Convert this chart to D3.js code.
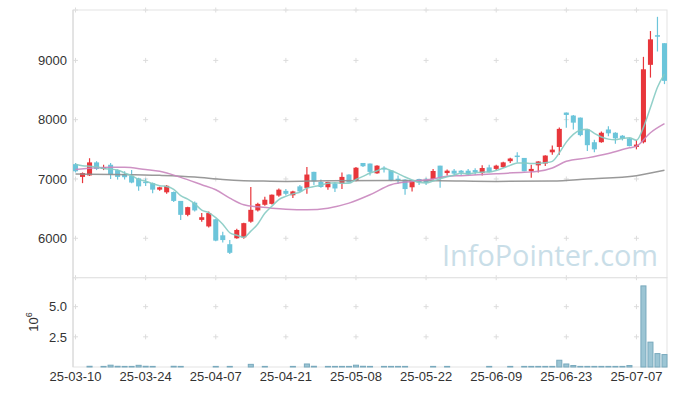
<!DOCTYPE html>
<html>
<head>
<meta charset="utf-8">
<script src="https://cdn.jsdelivr.net/npm/d3@7"></script>
<style>
  body { margin: 0; background: #fff; }
  text { font-family: "Liberation Sans", Arial, sans-serif; }
</style>
</head>
<body>
<div id="chart"></div>
<script>
// chart size
const FRAME_WIDTH = 677;
const FRAME_HEIGHT = 396;
const MARGINS = {left: 73, right: 10, top: 10, bottom: 29};
const PRICE_BOTTOM = 277.7;

// trading days (KRX), yy-mm-dd
const dates = [
  "25-03-10","25-03-11","25-03-12","25-03-13","25-03-14",
  "25-03-17","25-03-18","25-03-19","25-03-20","25-03-21",
  "25-03-24","25-03-25","25-03-26","25-03-27","25-03-28",
  "25-03-31","25-04-01","25-04-02","25-04-03","25-04-04",
  "25-04-07","25-04-08","25-04-09","25-04-10","25-04-11",
  "25-04-14","25-04-15","25-04-16","25-04-17","25-04-18",
  "25-04-21","25-04-22","25-04-23","25-04-24","25-04-25",
  "25-04-28","25-04-29","25-04-30","25-05-02","25-05-07",
  "25-05-08","25-05-09","25-05-12","25-05-13","25-05-14",
  "25-05-15","25-05-16","25-05-19","25-05-20","25-05-21",
  "25-05-22","25-05-23","25-05-26","25-05-27","25-05-28",
  "25-05-29","25-05-30","25-06-02","25-06-04","25-06-05",
  "25-06-09","25-06-10","25-06-11","25-06-12","25-06-13",
  "25-06-16","25-06-17","25-06-18","25-06-19","25-06-20",
  "25-06-23","25-06-24","25-06-25","25-06-26","25-06-27",
  "25-06-30","25-07-01","25-07-02","25-07-03","25-07-04",
  "25-07-07","25-07-08","25-07-09","25-07-10","25-07-11"
];

const opens = [
  7250,7035,7060,7280,7170, 7240,7150,7085,7055,7010,
  6955,6930,6820,6775,6780, 6630,6395,6600,6310,6200,
  6320,6050,5900,6000,6015, 6280,6470,6565,6580,6720,
  6800,6725,6875,6850,7120, 6950,6860,6925,6920,7075,
  6965,7270,7260,7095,7190, 7145,7005,6990,6860,7000,
  6990,7000,7225,7100,7140, 7140,7140,7150,7100,7195,
  7170,7200,7300,7395,7355, 7130,7230,7260,7450,7540,
  8120,8070,8035,7835,7620, 7620,7835,7780,7730,7685,
  7540,7620,8925,9425,9290
];
const highs = [
  7270,7110,7350,7300,7240, 7270,7160,7130,7150,7020,
  7010,6940,6870,6900,6790, 6630,6530,6620,6425,6450,
  6330,6110,5970,6160,6260, 6865,6600,6700,6740,6840,
  6830,6800,6900,7200,7120, 6990,6955,6940,7110,7080,
  7200,7270,7260,7230,7215, 7150,7060,6995,6980,7005,
  7020,7170,7225,7160,7170, 7150,7170,7180,7230,7240,
  7240,7290,7360,7450,7355, 7240,7300,7400,7565,7870,
  8120,8080,8035,7840,7660, 7800,7890,7790,7740,7690,
  7660,9060,9495,9735,9290
];
const lows = [
  7110,6930,7050,7150,7150, 7000,6990,6990,6930,6800,
  6880,6760,6800,6750,6610, 6310,6370,6450,6280,6180,
  5950,5930,5735,5990,5990, 6260,6450,6550,6570,6700,
  6720,6680,6780,6750,6900, 6850,6820,6780,6830,6940,
  6960,7200,7060,7090,7110, 6960,6920,6735,6790,6900,
  6900,6990,6850,7060,7060, 7060,7060,7070,7060,7110,
  7150,7190,7270,7280,7130, 7020,7110,7220,7410,7410,
  7865,7835,7720,7470,7450, 7610,7720,7595,7650,7550,
  7500,7600,8710,9150,8600
];
const closes = [
  7130,7100,7280,7170,7200, 7075,7035,7030,6940,6875,
  6935,6820,6860,6885,6630, 6395,6525,6470,6355,6425,
  5960,5970,5755,6140,6255, 6480,6580,6650,6735,6820,
  6750,6790,6790,7075,6960, 6865,6950,6840,7035,6940,
  7190,7215,7120,7225,7160, 6975,6975,6830,6975,6950,
  6935,7135,7020,7140,7090, 7105,7075,7115,7185,7115,
  7225,7280,7345,7375,7130, 7170,7295,7395,7495,7845,
  8080,7950,7740,7570,7500, 7780,7770,7685,7680,7555,
  7580,8850,9355,9400,8655
];
// volume in shares
const volumes = [
  8000,9000,60000,9000,50000, 150000,60000,50000,50000,140000,
  60000,50000,40000,9000,60000, 50000,5000,5000,5000,5000,
  50000,5000,50000,5000,5000, 220000,5000,50000,5000,5000,
  5000,50000,5000,250000,60000, 5000,50000,50000,50000,50000,
  150000,60000,50000,5000,50000, 50000,50000,50000,5000,5000,
  5000,50000,5000,50000,5000, 5000,5000,5000,5000,50000,
  5000,5000,50000,5000,50000, 50000,50000,50000,50000,560000,
  250000,120000,50000,50000,50000, 50000,50000,50000,50000,120000,
  5000,6720000,2060000,1110000,1030000
];

// MA5 first values (window reaches before first day)
const ma5Lead = [7250, 7225, 7215, 7205];
// MA20 and MA60 at [day index, value]
const ma20Points = [
  [0,7158],[5,7197],[7,7197],[10,7158],[12,7129],[15,7027],[18,6903],[20,6819],
  [22,6678],[24,6564],[26,6530],[28,6508],[30,6491],[33,6480],[36,6508],[39,6593],
  [42,6734],[45,6903],[48,6959],[51,7000],[53,7044],[55,7056],[60,7090],[64,7112],
  [66,7129],[68,7186],[70,7298],[73,7356],[76,7429],[79,7525],[80,7553],[82,7780],[84,7932]
];
const ma60Points = [
  [0,7085],[12,7061],[17,7034],[21,6990],[24,6971],[26,6966],[30,6959],[36,6971],
  [45,6975],[52,6971],[60,6959],[68,6966],[73,7000],[80,7056],[84,7146]
];

const priceTicks = [6000, 7000, 8000, 9000];
const volumeTicks = [2500000, 5000000];
const tickDates = ["25-03-10","25-03-24","25-04-07","25-04-21","25-05-08",
                   "25-05-22","25-06-09","25-06-23","25-07-07"];

const UP_COLOR = "#e8363b";
const DOWN_COLOR = "#6cc5da";
const GRID_COLOR = "#dcdcdc";

const svg = d3.select("#chart")
  .append("svg")
    .attr("width", FRAME_WIDTH)
    .attr("height", FRAME_HEIGHT);

const right = FRAME_WIDTH - MARGINS.right;
const volBottom = FRAME_HEIGHT - MARGINS.bottom;

const xScale = d3.scaleBand()
  .domain(dates)
  .range([MARGINS.left, right])
  .paddingInner(0.28)
  .paddingOuter(0);
const bw = xScale.bandwidth();
const cx = d => xScale(d) + bw / 2;

const yScale = d3.scaleLinear().domain([5335, 9850]).range([PRICE_BOTTOM, MARGINS.top]);
const vScale = d3.scaleLinear().domain([0, 7400000]).range([volBottom, PRICE_BOTTOM]);

// tiny "+" grid marks
function crosses(ys) {
  tickDates.forEach(d => {
    ys.forEach(y => {
      svg.append("path")
        .attr("d", `M${cx(d) - 2.5},${y}H${cx(d) + 2.5}M${cx(d)},${y - 2.5}V${y + 2.5}`)
        .attr("stroke", GRID_COLOR)
        .attr("stroke-width", 1);
    });
  });
}
crosses([MARGINS.top].concat(priceTicks.map(yScale), [PRICE_BOTTOM]));
crosses(volumeTicks.map(vScale));

// frames
svg.append("rect")
  .attr("x", MARGINS.left).attr("y", MARGINS.top)
  .attr("width", right - MARGINS.left).attr("height", PRICE_BOTTOM - MARGINS.top)
  .attr("fill", "none").attr("stroke", "#e3e3e3");
svg.append("rect")
  .attr("x", MARGINS.left).attr("y", PRICE_BOTTOM)
  .attr("width", right - MARGINS.left).attr("height", volBottom - PRICE_BOTTOM)
  .attr("fill", "none").attr("stroke", "#e3e3e3");
svg.append("line")
  .attr("x1", MARGINS.left).attr("x2", MARGINS.left)
  .attr("y1", MARGINS.top).attr("y2", volBottom)
  .attr("stroke", "#d6d6d6");

// watermark
svg.append("text")
  .attr("x", 442).attr("y", 266)
  .attr("textLength", 216).attr("lengthAdjust", "spacingAndGlyphs")
  .attr("font-size", 30)
  .style("font-family", "'Open Sans', sans-serif")
  .attr("fill", "#c9dee8")
  .text("InfoPointer.com");

// candles
const candles = svg.append("g");
dates.forEach((d, i) => {
  const col = closes[i] >= opens[i] ? UP_COLOR : DOWN_COLOR;
  candles.append("line")
    .attr("x1", cx(d)).attr("x2", cx(d))
    .attr("y1", yScale(highs[i])).attr("y2", yScale(lows[i]))
    .attr("stroke", col).attr("stroke-width", 1.2);
  const top = yScale(Math.max(opens[i], closes[i]));
  const bot = yScale(Math.min(opens[i], closes[i]));
  candles.append("rect")
    .attr("x", xScale(d)).attr("y", top)
    .attr("width", bw).attr("height", Math.max(bot - top, 1.5))
    .attr("fill", col);
});

// moving averages
const ma5 = closes.map((c, i) => i < 4 ? ma5Lead[i] : d3.mean(closes.slice(i - 4, i + 1)));

const line = d3.line()
  .x(p => cx(dates[p[0]]))
  .y(p => yScale(p[1]))
  .curve(d3.curveMonotoneX);

svg.append("path")
  .attr("d", line(ma60Points))
  .attr("fill", "none").attr("stroke", "#8e8e8e").attr("stroke-width", 1.5).attr("opacity", 0.9);
svg.append("path")
  .attr("d", line(ma20Points))
  .attr("fill", "none").attr("stroke", "#c986be").attr("stroke-width", 1.5).attr("opacity", 0.9);
svg.append("path")
  .attr("d", line(ma5.map((v, i) => [i, v])))
  .attr("fill", "none").attr("stroke", "#86cbc3").attr("stroke-width", 1.5).attr("opacity", 0.9);

// volume bars
dates.forEach((d, i) => {
  const h = volBottom - vScale(volumes[i]);
  if (h < 0.5) return;
  svg.append("rect")
    .attr("x", xScale(d)).attr("y", vScale(volumes[i]))
    .attr("width", bw).attr("height", h)
    .attr("fill", "#9cc5d4").attr("stroke", "#78a9bd").attr("stroke-width", 1);
});

// axes
const yAxis = svg.append("g")
  .attr("transform", `translate(${MARGINS.left},0)`)
  .call(d3.axisLeft(yScale).tickValues(priceTicks).tickSize(0).tickPadding(6).tickFormat(d3.format("d")));
const vAxis = svg.append("g")
  .attr("transform", `translate(${MARGINS.left},0)`)
  .call(d3.axisLeft(vScale).tickValues(volumeTicks).tickSize(0).tickPadding(6)
    .tickFormat(v => (v / 1e6).toFixed(1)));
const xAxis = svg.append("g")
  .attr("transform", `translate(${-bw / 2 + bw / 2},${volBottom})`)
  .call(d3.axisBottom(xScale).tickValues(tickDates).tickSize(0).tickPadding(5));

[yAxis, vAxis, xAxis].forEach(g => {
  g.select(".domain").remove();
  g.selectAll("text").attr("font-size", 13).attr("fill", "#333")
    .style("font-family", "'Liberation Sans', Arial, sans-serif");
});

// 10^6 label for volume axis
const unit = svg.append("text")
  .attr("transform", "translate(38,322) rotate(-90)")
  .attr("text-anchor", "middle")
  .attr("font-size", 13)
  .attr("fill", "#333");
unit.append("tspan").text("10");
unit.append("tspan").attr("dy", -6).attr("font-size", 9).text("6");
</script>
</body>
</html>
